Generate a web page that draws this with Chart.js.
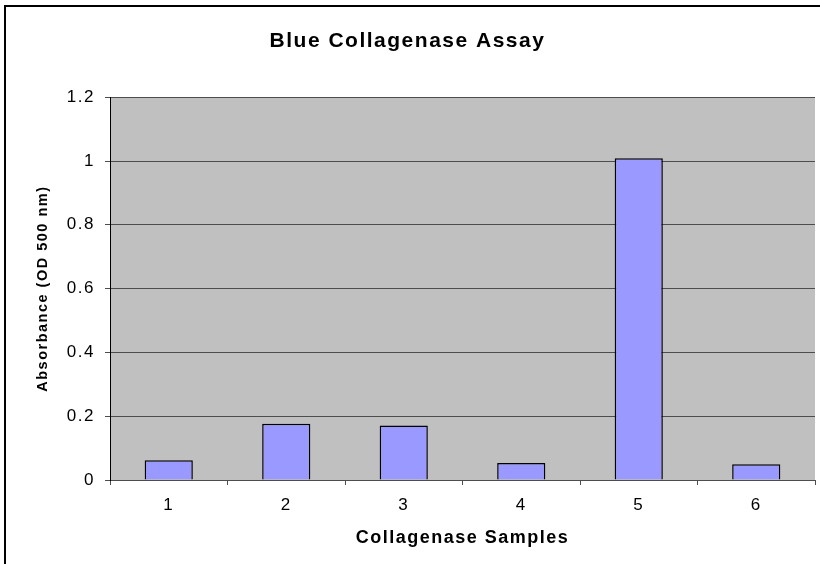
<!DOCTYPE html>
<html>
<head>
<meta charset="utf-8">
<script src="https://cdn.jsdelivr.net/npm/chart.js@4"></script>
<style>
  body { margin: 0; background: #fff; }
  #wrap { position: relative; width: 820px; height: 564px; }
</style>
</head>
<body>
<div id="wrap"><canvas id="myChart"></canvas></div>
<script>
const samples = ['1', '2', '3', '4', '5', '6'];
const absorbance = [0.062, 0.176, 0.171, 0.053, 1.009, 0.049];
const yMax = 1.2;
const yStep = 0.2;

const FONT = "'Liberation Sans', Arial, sans-serif";
const GRID = '#4d4d4d';

// Excel renders its text a bit spread out
const spacing = (chart) => { chart.ctx.letterSpacing = '1.5px'; };

const excelLook = {
  id: 'excelLook',
  beforeUpdate: spacing,
  beforeDraw(chart) {
    spacing(chart);
    const { ctx, chartArea: a } = chart;
    ctx.save();
    ctx.fillStyle = '#c0c0c0';
    ctx.fillRect(a.left, a.top, a.right - a.left, a.bottom - a.top);
    ctx.restore();
  },
  afterDraw(chart) {
    const ctx = chart.ctx;
    ctx.save();
    ctx.strokeStyle = '#000';
    ctx.lineWidth = 2;
    ctx.strokeRect(5, 6, 900, 700);
    ctx.restore();
  }
};

const data = {
  labels: samples,
  datasets: [{
    data: absorbance,
    backgroundColor: '#9999ff',
    borderColor: '#000',
    borderWidth: 1.5,
    barPercentage: 0.41,
    categoryPercentage: 1,
  }]
};

const config = {
  type: 'bar',
  data,
  plugins: [excelLook],
  options: {
    responsive: true,
    maintainAspectRatio: false,
    animation: false,
    layout: { padding: { left: 0, right: 5, top: 0, bottom: 0 } },
    plugins: {
      legend: { display: false },
      tooltip: { enabled: false },
      title: {
        display: true,
        text: 'Blue Collagenase Assay',
        color: '#000',
        font: { family: FONT, size: 21, weight: 'bold' },
        padding: { top: 29, bottom: 43 }
      }
    },
    scales: {
      x: {
        afterFit: (s) => { s.height = 84; },
        grid: { drawOnChartArea: false, offset: true, tickLength: 5, color: GRID },
        border: { color: GRID },
        ticks: { color: '#000', padding: 10, font: { family: FONT, size: 17 } },
        title: {
          display: true,
          text: 'Collagenase Samples',
          color: '#000',
          font: { family: FONT, size: 18, weight: 'bold' },
          padding: { top: 0, bottom: 15 }
        }
      },
      y: {
        min: 0,
        max: yMax,
        afterFit: (s) => { s.width = 110; },
        grid: { color: GRID, tickLength: 5 },
        border: { color: '#000' },
        ticks: {
          stepSize: yStep,
          color: '#000',
          padding: 10,
          font: { family: FONT, size: 17 },
          callback: (v) => String(Number(v.toFixed(2)))
        },
        title: {
          display: true,
          text: 'Absorbance (OD 500 nm)',
          color: '#000',
          font: { family: FONT, size: 14.5, weight: 'bold' },
          padding: { top: 34, bottom: 0 }
        }
      }
    }
  }
};

var myChart = new Chart(
  document.getElementById('myChart'),
  config
);
</script>
</body>
</html>
